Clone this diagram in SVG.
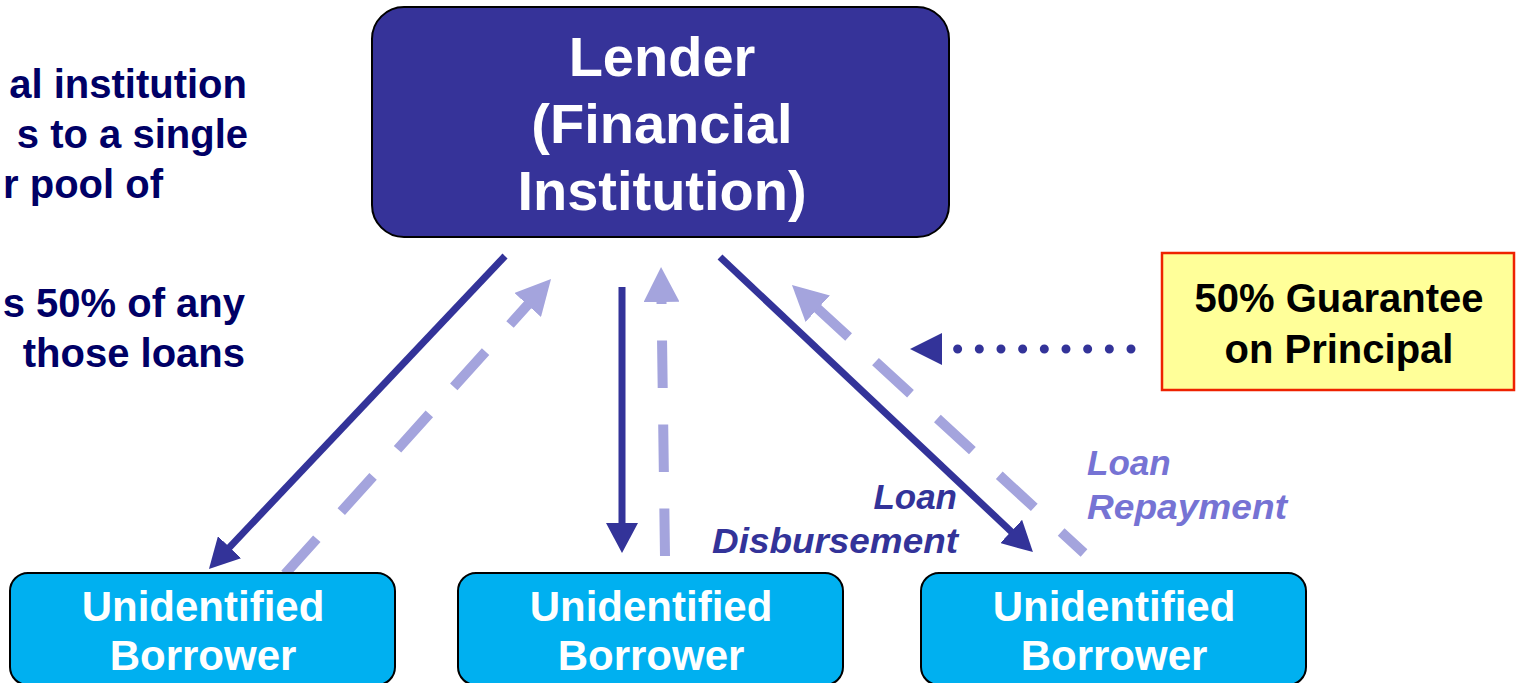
<svg xmlns="http://www.w3.org/2000/svg" width="1519" height="683" viewBox="0 0 1519 683">
<defs>
<style>
.side{font-family:"Liberation Sans",Arial,sans-serif;font-weight:bold;font-size:40px;fill:#000066;text-anchor:end}
.lender{font-family:"Liberation Sans",Arial,sans-serif;font-weight:bold;font-size:56px;fill:#ffffff;text-anchor:middle}
.borr{font-family:"Liberation Sans",Arial,sans-serif;font-weight:bold;font-size:42px;fill:#ffffff;text-anchor:middle}
.guar{font-family:"Liberation Sans",Arial,sans-serif;font-weight:bold;font-size:40px;fill:#000000;text-anchor:middle}
.lbl{font-family:"Liberation Sans",Arial,sans-serif;font-weight:bold;font-style:italic;font-size:35px}
.boxb{fill:#00B0F0;stroke:#000000;stroke-width:2}
.solid{fill:none;stroke:#333399;stroke-width:7;marker-end:url(#solidHead)}
.dash{fill:none;stroke:#A4A4DD;stroke-width:10;stroke-dasharray:47.5 36.5;marker-end:url(#lightHead)}
</style>
<marker id="solidHead" markerUnits="userSpaceOnUse" viewBox="0 0 30 32" markerWidth="30" markerHeight="32" refX="18" refY="16" orient="auto">
<path d="M0,0 L30,16 L0,32 Z" fill="#333399"/>
</marker>
<marker id="lightHead" markerUnits="userSpaceOnUse" viewBox="0 0 35 36" markerWidth="35" markerHeight="36" refX="23" refY="18" orient="auto">
<path d="M0,0 L35,18 L0,36 Z" fill="#A4A4DD"/>
</marker>
</defs>
<rect width="1519" height="683" fill="#ffffff"/>

<g id="side-text">
<text class="side" x="247" y="98">al institution</text>
<text class="side" x="248" y="148">s to a single</text>
<text class="side" x="163" y="198">r pool of</text>
<text class="side" x="245" y="317">s 50% of any</text>
<text class="side" x="245" y="367">those loans</text>
</g>

<g id="connectors">
<path class="solid" d="M505,256 L217.2,560.3"/>
<path class="dash" d="M285,574 L543,287.9"/>
<path class="solid" d="M622,287 L622,541"/>
<path class="dash" d="M665,556 L661.2,279"/>
<path class="solid" d="M720,257 L1024.2,543.8"/>
<path class="dash" style="stroke-dashoffset:16.5" d="M1084,553 L800.8,293.1"/>
<path d="M1131,349 L936,349" fill="none" stroke="#333399" stroke-width="9" stroke-linecap="round" stroke-dasharray="0 21.67"/>
<polygon points="910,349 942,333 942,365" fill="#333399"/>
</g>

<g id="lender">
<rect x="372" y="7" width="577" height="230" rx="32" ry="32" fill="#363399" stroke="#000000" stroke-width="2"/>
<text class="lender" x="662" y="76">Lender</text>
<text class="lender" x="662" y="143">(Financial</text>
<text class="lender" x="662" y="210">Institution)</text>
</g>

<g id="guarantee">
<rect x="1162" y="253" width="352" height="137" fill="#FFFF99" stroke="#EE2200" stroke-width="2.5"/>
<text class="guar" x="1339" y="312">50% Guarantee</text>
<text class="guar" x="1339" y="363">on Principal</text>
</g>

<g id="borrower1">
<rect class="boxb" x="10" y="573" width="385" height="112" rx="18" ry="18"/>
<text class="borr" x="203" y="621">Unidentified</text>
<text class="borr" x="203" y="670">Borrower</text>
</g>
<g id="borrower2">
<rect class="boxb" x="458" y="573" width="385" height="112" rx="18" ry="18"/>
<text class="borr" x="651" y="621">Unidentified</text>
<text class="borr" x="651" y="670">Borrower</text>
</g>
<g id="borrower3">
<rect class="boxb" x="921" y="573" width="385" height="112" rx="18" ry="18"/>
<text class="borr" x="1114" y="621">Unidentified</text>
<text class="borr" x="1114" y="670">Borrower</text>
</g>

<g id="labels">
<text class="lbl" fill="#333399" text-anchor="end" x="957" y="509">Loan</text>
<text class="lbl" fill="#333399" text-anchor="end" x="958" y="553" textLength="246" lengthAdjust="spacingAndGlyphs">Disbursement</text>
<text class="lbl" fill="#7673D4" x="1087" y="475">Loan</text>
<text class="lbl" fill="#7673D4" x="1087" y="519" textLength="200" lengthAdjust="spacingAndGlyphs">Repayment</text>
</g>
</svg>
